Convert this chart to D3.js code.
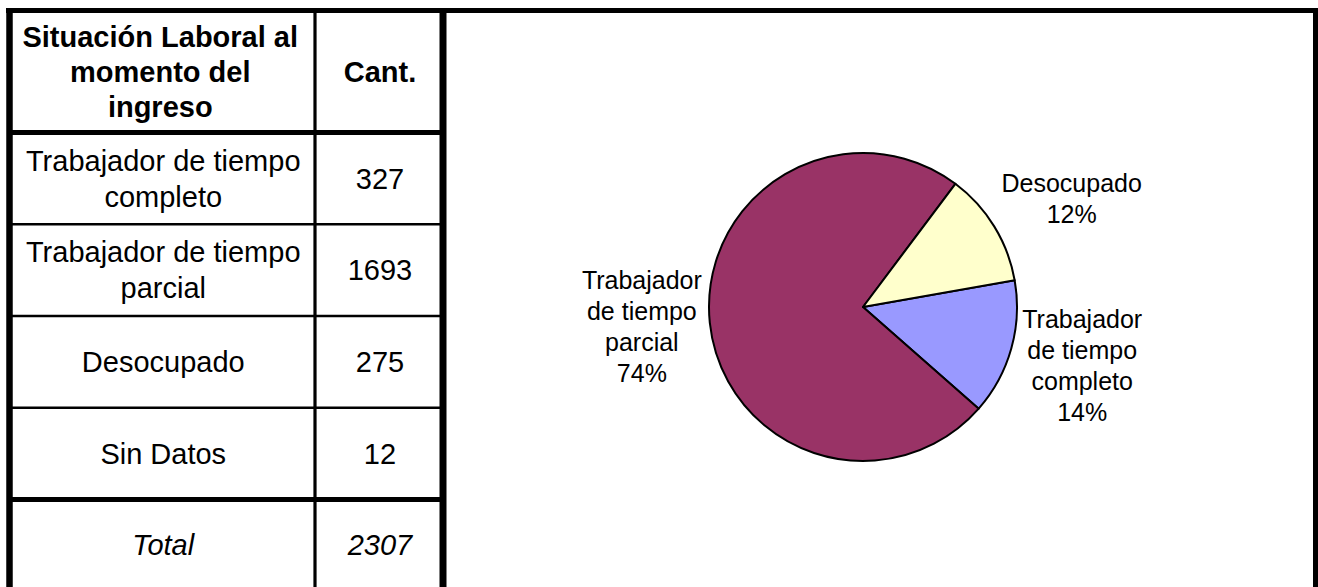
<!DOCTYPE html>
<meta charset="utf-8">
<style>
body { margin: 0; background: #fff; }
text { font-family: "Liberation Sans", Arial, sans-serif; fill: #000; }
</style>
<body>
<script src="https://cdn.jsdelivr.net/npm/d3@7"></script>
<script>

// table data
var headerLabel = "Situación Laboral al momento del ingreso";
var headerCount = "Cant.";
var categories = ["Trabajador de tiempo completo", "Trabajador de tiempo parcial", "Desocupado", "Sin Datos"];
var counts = [327, 1693, 275, 12];
var totalLabel = "Total";
var totalCount = 2307;

// pie data (Sin Datos is left out of the pie)
var pieCategories = ["Trabajador de tiempo completo", "Trabajador de tiempo parcial", "Desocupado"];
var pieValues = [327, 1693, 275];
var pieColors = ["#9999FF", "#993366", "#FFFFCC"];

var width = 1318, height = 587;
var svg = d3.select("body").append("svg")
    .attr("width", width)
    .attr("height", height);

// ---- table ----
var tLeft = 9.5, tDiv = 315, tRight = 443, tTop = 10.5;
var headBottom = 132.5, rowH = 91.75;
var rowY = d3.scaleLinear().domain([0, 1]).range([headBottom, headBottom + rowH]);
var col1 = (tLeft + tDiv) / 2 + 1, col2 = (tDiv + tRight) / 2 + 1;

function wrap(str, maxW, font) {
  var ctx = document.createElement("canvas").getContext("2d");
  ctx.font = font;
  var words = str.split(" "), lines = [], cur = "";
  words.forEach(function(w) {
    var t = cur ? cur + " " + w : w;
    if (cur && ctx.measureText(t).width > maxW) { lines.push(cur); cur = w; }
    else cur = t;
  });
  if (cur) lines.push(cur);
  return lines;
}

function block(g, lines, x, cy, size, lh, opts) {
  opts = opts || {};
  var t = g.append("text")
    .attr("text-anchor", "middle")
    .attr("font-size", size)
    .attr("font-weight", opts.bold ? "bold" : null)
    .attr("font-style", opts.italic ? "italic" : null);
  var first = cy - (lines.length - 1) * lh / 2 + size * 0.355;
  lines.forEach(function(l, i) {
    t.append("tspan").attr("x", x).attr("y", first + i * lh).text(l);
  });
}

var tbl = svg.append("g");
var fs = 29, lh = 35;

// header
var hc = (tTop + headBottom) / 2;
block(tbl, wrap(headerLabel, 285, "bold 29px 'Liberation Sans'"), col1 - 3, hc, fs, lh, {bold: true});
block(tbl, [headerCount], col2, hc, fs, lh, {bold: true});

// rows
categories.forEach(function(c, i) {
  var cy = (rowY(i) + rowY(i + 1)) / 2;
  block(tbl, wrap(c, 285, "29px 'Liberation Sans'"), col1, cy, fs, 36);
  block(tbl, [String(counts[i])], col2, cy, fs, 36);
});

// total row
var totTop = rowY(categories.length);
block(tbl, [totalLabel], col1, totTop + 45, fs, lh, {italic: true});
block(tbl, [String(totalCount)], col2, totTop + 45, fs, lh, {italic: true});

// grid lines
function line(x1, y1, x2, y2, w) {
  tbl.append("line").attr("x1", x1).attr("y1", y1).attr("x2", x2).attr("y2", y2)
    .attr("stroke", "#000").attr("stroke-width", w);
}
line(6, tTop, width, tTop, 5);                 // top border
line(tLeft, 8, tLeft, height, 6.5);            // left border
line(tDiv, tTop, tDiv, height, 3.2);           // column divider
line(tRight, tTop, tRight, height, 7);         // table / chart divider
line(1315.5, tTop, 1315.5, height, 5);         // right border
line(tLeft, headBottom, tRight, headBottom, 5);
for (var i = 1; i < categories.length; i++) {
  line(tLeft, rowY(i), tRight, rowY(i), 2.6);
}
line(tLeft, totTop, tRight, totTop, 5);

// ---- pie ----
var cx = 863, cy = 307, r = 154;
var start = 80 * Math.PI / 180;
var pie = d3.pie().sort(null).startAngle(start).endAngle(start + 2 * Math.PI);
var arcs = pie(pieValues);
var arc = d3.arc().innerRadius(0).outerRadius(r);
var pieTotal = d3.sum(pieValues);
var pct = d3.format(".0%");

var pg = svg.append("g").attr("transform", "translate(" + cx + "," + cy + ")");
pg.selectAll("path")
  .data(arcs)
  .enter().append("path")
    .attr("d", arc)
    .attr("fill", function(d, i) { return pieColors[i]; })
    .attr("stroke", "#000")
    .attr("stroke-width", 2)
    .attr("stroke-linejoin", "round");

// label placement tweaks (radius, angle nudge in degrees)
var labelPos = [{rr: 227, da: -0.6}, {rr: 222, da: 0.9}, {rr: 235, da: 4.2}];
arcs.forEach(function(d, i) {
  var a = (d.startAngle + d.endAngle) / 2 + labelPos[i].da * Math.PI / 180;
  var lx = Math.sin(a) * labelPos[i].rr;
  var ly = -Math.cos(a) * labelPos[i].rr;
  var lines = wrap(pieCategories[i], 125, "25px 'Liberation Sans'");
  lines.push(pct(pieValues[i] / pieTotal));
  block(pg, lines, lx, ly, 25, 31);
});

</script>
</body>
</html>
